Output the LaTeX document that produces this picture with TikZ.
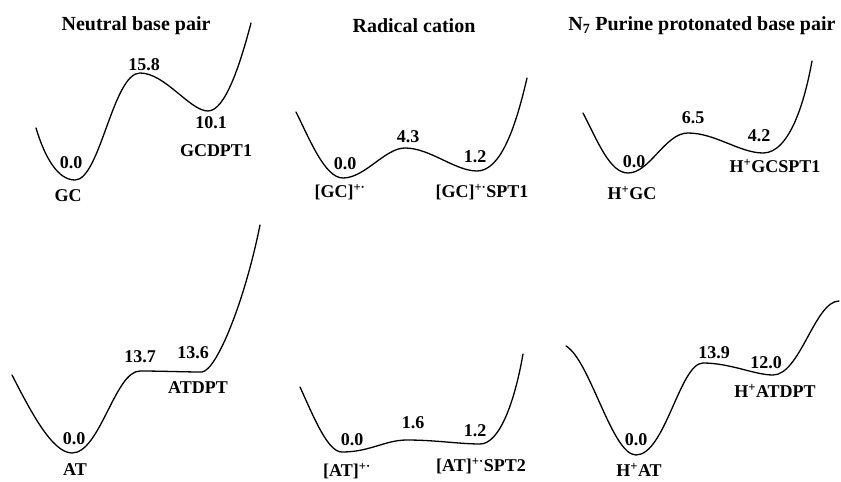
\documentclass[tikz,border=0pt]{standalone}
\usepackage{fontspec}
\setmainfont{Liberation Serif}
\begin{document}
\begin{tikzpicture}[x=1pt,y=-1pt,
  title/.style={font=\fontsize{20}{24}\selectfont\bfseries, inner sep=0pt},
  lab/.style={font=\fontsize{18}{21}\selectfont\bfseries, inner sep=0pt},
  pes/.style={line width=1.3pt, line cap=round, line join=round}]
\useasboundingbox (0,0) rectangle (841,482);

% ---------- column titles ----------
\node[title] (t1) at (136,26) {Neutral base pair};
\node[title] (t2) at (414,26) {Radical cation};
\node[title] (t3) at (702,26) {N\textsubscript{7} Purine protonated base pair};

% ---------- neutral GC ----------
\draw[pes] (36,128) .. controls (45,158) and (58,180) .. (75,180)
  .. controls (100,180) and (113,73) .. (140,73)
  .. controls (165,73) and (190,111) .. (208,111)
  .. controls (225,111) and (240,65) .. (251,23);
\node[lab] (e1a) at (71,163) {0.0};
\node[lab] (n1a) at (68,196) {GC};
\node[lab] (e1b) at (144,65) {15.8};
\node[lab] (e1c) at (211,123) {10.1};
\node[lab] (n1c) at (216,151) {GCDPT1};

% ---------- radical cation GC ----------
\draw[pes] (296,112) .. controls (310,140) and (325,178) .. (343,178)
  .. controls (365,178) and (385,148) .. (405,148)
  .. controls (430,148) and (455,171) .. (477,171)
  .. controls (500,171) and (515,130) .. (527,78);
\node[lab] (e2a) at (345,164) {0.0};
\node[lab] (n2a) at (340,192) {[GC]\textsuperscript{+·}};
\node[lab] (e2b) at (408,137) {4.3};
\node[lab] (e2c) at (475,157) {1.2};
\node[lab] (n2c) at (482,192) {[GC]\textsuperscript{+·}SPT1};

% ---------- protonated GC ----------
\draw[pes] (583,113) .. controls (598,142) and (610,173) .. (628,173)
  .. controls (650,173) and (665,133) .. (688,133)
  .. controls (715,133) and (740,153) .. (763,153)
  .. controls (790,153) and (805,100) .. (812,61);
\node[lab] (e3a) at (634,162) {0.0};
\node[lab] (n3a) at (632,193) {H\textsuperscript{+}GC};
\node[lab] (e3b) at (693,118) {6.5};
\node[lab] (e3c) at (759,136) {4.2};
\node[lab] (n3c) at (775,166) {H\textsuperscript{+}GCSPT1};

% ---------- neutral AT ----------
\draw[pes] (12,375) .. controls (30,410) and (52,453) .. (72,453)
  .. controls (100,453) and (115,371) .. (140,371)
  .. controls (160,371) and (185,372) .. (202,372)
  .. controls (217,370) and (245,300) .. (260,225);
\node[lab] (e4a) at (74,439) {0.0};
\node[lab] (n4a) at (75,470) {AT};
\node[lab] (e4b) at (140,357) {13.7};
\node[lab] (e4c) at (193,353) {13.6};
\node[lab] (n4c) at (198,388) {ATDPT};

% ---------- radical cation AT ----------
\draw[pes] (300,387) .. controls (315,420) and (328,452) .. (342,452)
  .. controls (370,452) and (385,440) .. (407,440)
  .. controls (435,440) and (460,444) .. (480,444)
  .. controls (500,444) and (515,400) .. (523,354);
\node[lab] (e5a) at (352,440) {0.0};
\node[lab] (n5a) at (347,471) {[AT]\textsuperscript{+·}};
\node[lab] (e5b) at (413,423) {1.6};
\node[lab] (e5c) at (475,431) {1.2};
\node[lab] (n5c) at (481,466) {[AT]\textsuperscript{+·}SPT2};

% ---------- protonated AT ----------
\draw[pes] (566,346) .. controls (590,360) and (612,455) .. (636,455)
  .. controls (665,455) and (680,363) .. (703,363)
  .. controls (730,363) and (755,375) .. (773,375)
  .. controls (800,375) and (815,301) .. (839,301);
\node[lab] (e6a) at (636,440) {0.0};
\node[lab] (n6a) at (639,470) {H\textsuperscript{+}AT};
\node[lab] (e6b) at (714,353) {13.9};
\node[lab] (e6c) at (766,363) {12.0};
\node[lab] (n6c) at (775,391) {H\textsuperscript{+}ATDPT};
\end{tikzpicture}
\end{document}
